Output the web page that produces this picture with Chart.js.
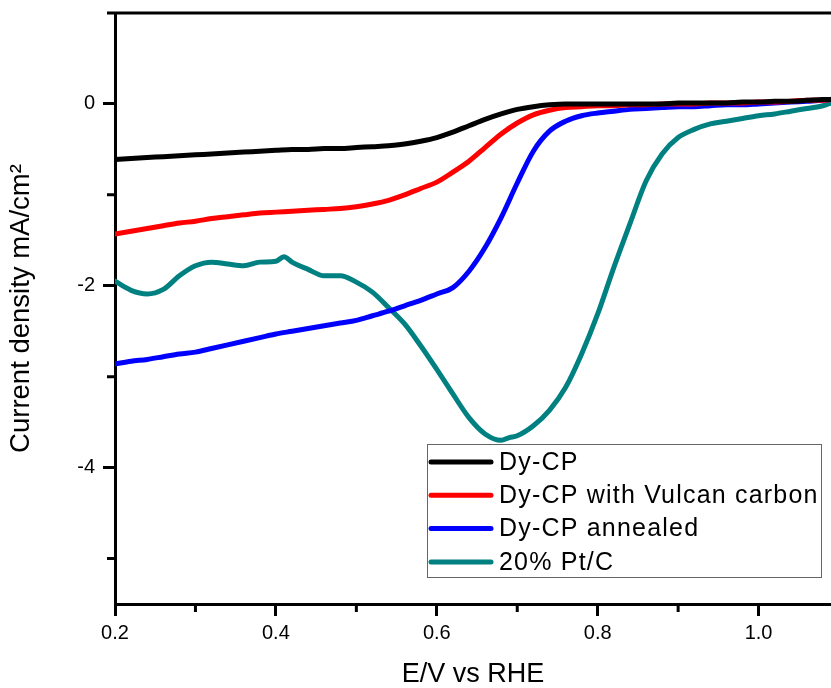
<!DOCTYPE html>
<html>
<head>
<meta charset="utf-8">
<script src="https://cdn.jsdelivr.net/npm/chart.js@4.4.0/dist/chart.umd.min.js"></script>
<style>
  body { margin: 0; background: #fff; }
  #wrap { width: 831px; height: 688px; }
</style>
</head>
<body>
<div id="wrap"><canvas id="lsv"></canvas></div>
<script>
// LSV curves, E vs RHE (V) against current density (mA/cm2)
const potential = [0.20,0.22,0.24,0.26,0.28,0.30,0.32,0.34,0.36,0.38,0.40,0.42,0.44,0.46,0.48,0.50,0.52,0.54,0.56,0.58,
  0.60,0.62,0.64,0.66,0.68,0.70,0.72,0.74,0.76,0.78,0.80,0.82,0.84,0.86,0.88,0.90,0.92,0.94,0.96,0.98,
  1.00,1.02,1.04,1.06,1.08,1.09];
const dyCP = [-0.61,-0.60,-0.59,-0.58,-0.57,-0.56,-0.55,-0.54,-0.53,-0.52,-0.51,-0.50,-0.50,-0.49,-0.49,-0.48,-0.47,-0.46,-0.44,-0.41,
  -0.37,-0.31,-0.24,-0.17,-0.11,-0.06,-0.03,-0.01,0.00,0.00,0.00,0.00,0.00,0.00,0.00,0.01,0.01,0.01,0.01,0.02,
  0.02,0.03,0.03,0.04,0.05,0.05];
const dyCPVulcan = [-1.43,-1.40,-1.37,-1.34,-1.31,-1.29,-1.26,-1.24,-1.22,-1.20,-1.19,-1.18,-1.17,-1.16,-1.15,-1.13,-1.10,-1.06,-1.00,-0.93,
  -0.86,-0.75,-0.63,-0.48,-0.33,-0.21,-0.12,-0.07,-0.04,-0.03,-0.02,-0.02,-0.01,-0.01,0.00,0.00,0.00,0.01,0.01,0.01,
  0.02,0.02,0.03,0.04,0.04,0.05];
const dyCPAnnealed = [-2.86,-2.83,-2.81,-2.78,-2.75,-2.73,-2.69,-2.65,-2.61,-2.57,-2.53,-2.50,-2.47,-2.44,-2.41,-2.38,-2.33,-2.28,-2.22,-2.16,
  -2.09,-2.02,-1.84,-1.58,-1.25,-0.87,-0.52,-0.30,-0.19,-0.13,-0.10,-0.08,-0.06,-0.05,-0.04,-0.03,-0.03,-0.02,-0.01,-0.01,
  0.00,0.01,0.02,0.03,0.04,0.05];

// Pt/C curve read on its own grid (extra points around the wiggles)
const potentialPt = [0.20,0.22,0.24,0.26,0.28,0.30,0.32,0.34,0.36,0.38,0.40,0.41,0.42,0.44,0.46,0.48,0.50,0.52,0.54,0.56,
  0.58,0.60,0.62,0.64,0.66,0.68,0.69,0.70,0.72,0.74,0.76,0.78,0.80,0.82,0.84,0.86,0.88,0.90,0.92,0.94,
  0.96,0.98,1.00,1.02,1.04,1.06,1.08,1.09];
const ptC = [-1.95,-2.05,-2.09,-2.04,-1.89,-1.78,-1.74,-1.76,-1.78,-1.74,-1.73,-1.68,-1.74,-1.82,-1.89,-1.89,-1.96,-2.07,-2.24,-2.42,
  -2.66,-2.92,-3.19,-3.45,-3.63,-3.70,-3.67,-3.65,-3.54,-3.37,-3.12,-2.75,-2.31,-1.80,-1.32,-0.85,-0.55,-0.37,-0.28,-0.22,
  -0.19,-0.16,-0.13,-0.11,-0.08,-0.05,-0.02,0.01];

const seriesNames = ['Dy-CP', 'Dy-CP with Vulcan carbon', 'Dy-CP annealed', '20% Pt/C'];
const seriesColors = ['#000000', '#ff0000', '#0000ff', '#008080'];

const xMajor = [0.2, 0.4, 0.6, 0.8, 1.0];
const xMinor = [0.3, 0.5, 0.7, 0.9];
const xTickLabels = ['0.2', '0.4', '0.6', '0.8', '1.0'];
const yMajor = [-4, -2, 0];
const yMinor = [-5, -3, -1, 1];
const yTickLabels = ['-4', '-2', '0'];

const FONT = 'Arial, "Liberation Sans", sans-serif';

function pts(xs, ys) {
  const out = [];
  for (let i = 0; i < xs.length; i++) {
    out.push({x: xs[i], y: ys[i]});
  }
  return out;
}

const allData = [pts(potential, dyCP), pts(potential, dyCPVulcan), pts(potential, dyCPAnnealed), pts(potentialPt, ptC)];

// frame top line, minor ticks and the boxed legend
const extras = {
  id: 'extras',
  afterDraw(chart) {
    const c = chart.ctx;
    const a = chart.chartArea;
    const xs = chart.scales.x, ys = chart.scales.y;
    c.save();
    c.strokeStyle = '#000';
    c.lineWidth = 3;
    c.beginPath();
    c.moveTo(a.left - 1.5, a.top);
    c.lineTo(a.right, a.top);
    xMinor.forEach(v => {
      const px = xs.getPixelForValue(v);
      c.moveTo(px, a.bottom);
      c.lineTo(px, a.bottom + 8);
    });
    yMinor.forEach(v => {
      const py = ys.getPixelForValue(v);
      c.moveTo(a.left, py);
      c.lineTo(a.left - 8, py);
    });
    c.stroke();

    // legend
    const bx = a.left + 312, by = a.bottom - 160, bw = 394, bh = 133;
    c.fillStyle = '#fff';
    c.fillRect(bx, by, bw, bh);
    c.strokeStyle = '#666';
    c.lineWidth = 1;
    c.strokeRect(bx + 0.5, by + 0.5, bw, bh);
    c.font = '25px ' + FONT;
    c.letterSpacing = '1.2px';
    c.textBaseline = 'middle';
    c.textAlign = 'left';
    seriesNames.forEach((name, i) => {
      const cy = by + 18 + i * 33.3;
      c.strokeStyle = seriesColors[i];
      c.lineWidth = 5;
      c.lineCap = 'round';
      c.beginPath();
      c.moveTo(bx + 4, cy);
      c.lineTo(bx + 64, cy);
      c.stroke();
      c.fillStyle = '#000';
      c.fillText(name, bx + 72, cy + 1);
    });
    c.restore();
  }
};

new Chart(document.getElementById('lsv'), {
  type: 'line',
  data: {
    datasets: seriesNames.map((name, i) => ({
      label: name,
      data: allData[i],
      borderColor: seriesColors[i],
      backgroundColor: seriesColors[i],
      borderWidth: 5,
      pointRadius: 0,
      cubicInterpolationMode: 'monotone',
      borderCapStyle: 'round',
      borderJoinStyle: 'round',
      fill: false
    }))
  },
  options: {
    responsive: true,
    maintainAspectRatio: false,
    animation: false,
    layout: { padding: { top: 13, right: 0, left: 0, bottom: 0 } },
    plugins: {
      legend: { display: false },
      tooltip: { enabled: false }
    },
    scales: {
      x: {
        type: 'linear',
        min: 0.2,
        max: 1.09,
        afterBuildTicks: s => { s.ticks = xMajor.map(v => ({value: v})); },
        afterFit: s => { s.height = 84; s.paddingLeft = 0; s.paddingRight = 0; },
        ticks: {
          autoSkip: false,
          maxRotation: 0,
          padding: 5,
          color: '#000',
          font: { family: FONT, size: 20 },
          callback: (v, i) => xTickLabels[i]
        },
        grid: { drawOnChartArea: false, tickLength: 12, tickWidth: 3, tickColor: '#000' },
        border: { color: '#000', width: 3 },
        title: {
          display: true,
          text: 'E/V vs RHE',
          color: '#000',
          font: { family: FONT, size: 27, lineHeight: 1 },
          padding: { top: 0, bottom: 0 }
        }
      },
      y: {
        type: 'linear',
        min: -5.5,
        max: 1,
        afterBuildTicks: s => { s.ticks = yMajor.map(v => ({value: v})); },
        afterFit: s => { s.width = 115; s.paddingTop = 0; s.paddingBottom = 0; },
        ticks: {
          autoSkip: false,
          padding: 8,
          color: '#000',
          font: { family: FONT, size: 20 },
          callback: (v, i) => yTickLabels[i]
        },
        grid: { drawOnChartArea: false, tickLength: 12, tickWidth: 3, tickColor: '#000' },
        border: { color: '#000', width: 3 },
        title: {
          display: true,
          text: 'Current density mA/cm²',
          color: '#000',
          font: { family: FONT, size: 27.5, lineHeight: 1 },
          padding: { top: 8, bottom: 0 }
        }
      }
    }
  },
  plugins: [extras]
});
</script>
</body>
</html>
